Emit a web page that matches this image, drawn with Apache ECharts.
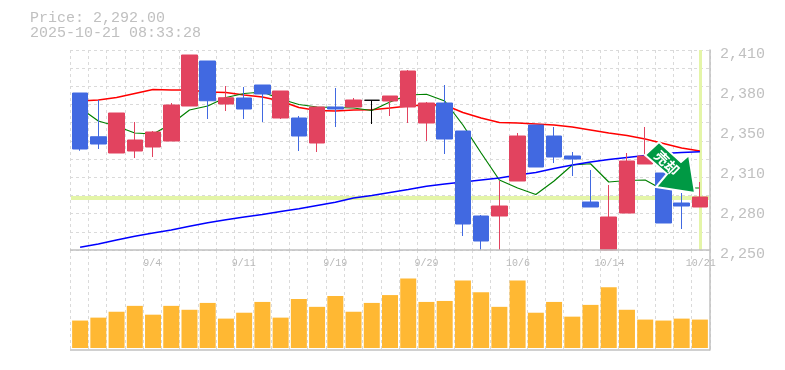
<!DOCTYPE html>
<html><head><meta charset="utf-8">
<style>html,body{margin:0;padding:0;background:#fff}#c{width:785px;height:370px}</style>
<script src="https://cdn.jsdelivr.net/npm/echarts@6/dist/echarts.min.js"></script>
</head><body><div id="c"></div>
<script>
const categories=['8/29','9/1','9/2','9/3','9/4','9/5','9/8','9/9','9/10','9/11','9/12','9/16','9/17','9/18','9/19','9/22','9/24','9/25','9/26','9/29','9/30','10/1','10/2','10/3','10/6','10/7','10/8','10/9','10/10','10/14','10/15','10/16','10/17','10/20','10/21'];
const dateTicks=['9/4','9/11','9/19','9/29','10/6','10/14','10/21'];
const priceTicks=['2,410','2,380','2,350','2,310','2,280','2,250'];
const opens =[2375.6,2340.6,2327.6,2329.2,2332.4,2337.2,2365.2,2401.2,2366.8,2371.6,2382,2355.6,2355.6,2335.6,2364.4,2364.4,2369.8,2369.2,2364.4,2351.6,2367.6,2345.2,2277.2,2277.2,2305.2,2350,2341.2,2325.2,2288.4,2250,2279.6,2318.8,2311.6,2287.6,2284.4];
const closes=[2330.8,2334.8,2359.6,2338,2344.4,2366,2406,2369.4,2371.8,2362.8,2374.8,2377.2,2341.2,2364.4,2362.8,2370,2369.8,2373.2,2393.2,2367.6,2338.8,2270.8,2257.2,2285.2,2341.2,2316.4,2324.4,2322.8,2284.4,2276.4,2321.2,2325.2,2271.6,2285.2,2292.4];
const lows  =[2329.4,2330.8,2327.6,2323.6,2324.4,2337.2,2365.2,2354.8,2361.2,2354.8,2352.4,2354.8,2329.2,2328.4,2348.4,2364.4,2350.8,2357.2,2351.6,2337.2,2326.8,2261.2,2250,2250,2305.2,2316.4,2319.6,2309.2,2284.4,2250,2279.6,2318.8,2271.6,2266.8,2284.4];
const highs =[2375.6,2370,2359.6,2352.4,2345.2,2367.6,2406,2401.2,2381.2,2380.4,2382,2377.2,2357.2,2364.4,2379.6,2371.6,2369.8,2373.2,2394,2368.4,2382,2345.2,2278,2305.2,2343.6,2350,2348.4,2328.4,2314,2302,2327.6,2348.4,2311.6,2295.6,2304.4];
const maRed  =[2369.2,2370.0,2372.0,2375.2,2378.4,2378.0,2378.0,2376.4,2376.0,2374.0,2372.4,2369.2,2364.0,2361.6,2361.2,2362.0,2362.2,2363.6,2365.2,2366.2,2366.0,2360.0,2355.6,2352.0,2351.6,2350.8,2350.0,2348.4,2346.0,2343.6,2341.6,2338.8,2335.2,2331.6,2329.2];
const maGreen=[2363.6,2353.2,2349.0,2343.6,2342.8,2350.8,2362.0,2365.2,2372.0,2375.2,2376.4,2370.8,2366.4,2364.4,2364.0,2363.6,2361.6,2368.4,2374.0,2374.6,2369.2,2350.0,2327.6,2306.0,2299.6,2294.4,2305.2,2318.0,2319.0,2304.4,2305.6,2306.0,2298.0,2299.6,2299.6];
const maBlue =[2252.2,2254.8,2258.0,2261.0,2263.6,2266.0,2269.0,2271.8,2274.2,2276.4,2278.4,2280.8,2283.0,2285.6,2288.2,2291.6,2293.6,2296.0,2298.4,2301.0,2302.8,2304.4,2306.0,2307.6,2310.0,2312.0,2315.2,2318.0,2320.4,2322.4,2324.0,2325.6,2327.2,2328.0,2328.6];
const volumes=[28,31,37,43,34,43,39,46,30,36,47,31,50,42,53,37,46,54,71,47,48,69,57,42,69,36,47,32,44,62,39,29,28,30,29];
const lastPrice=2292;
const titleLines=['Price: 2,292.00','2025-10-21 08:33:28'];
const arrowLabel='売却';

const FONT='"Liberation Mono",monospace', GREY='#c0c0c0', GRID='#dadada', PALE='#e4f5a8';
const RED='#e2435f', BLUE='#4169e1';
const candleData=opens.map((o,i)=>{
  const flat=o===closes[i];
  return {value:[o,closes[i],lows[i],highs[i]],
    itemStyle:flat?{color:'#000',color0:'#000',borderColor:'#000',borderColor0:'#000'}:undefined};
});
const dashed={show:true,interval:0,lineStyle:{color:GRID,type:[3,3],width:1}};
const noAxis={show:false};
const lineSeries=(data,color,width)=>({type:'line',xAxisIndex:2,yAxisIndex:2,data,symbol:'none',silent:true,z:2,
  lineStyle:{color,width},itemStyle:{color}});
const option={
  animation:false,backgroundColor:'#fff',
  title:titleLines.map((t,i)=>({text:t,left:30,top:11+i*15,padding:0,
    textStyle:{fontFamily:FONT,fontSize:15,fontWeight:'normal',color:GREY}})),
  grid:[
    {left:70,width:640,top:50,height:200,show:false},
    {left:70,width:640,top:250,height:100,show:false},
    {left:71,width:638,top:50,height:200,show:false},
    {left:71,width:638,top:250,height:98,show:false},
    {left:70,width:640,top:54,height:200,show:false}
  ],
  xAxis:[
    {gridIndex:0,type:'category',data:categories,axisLine:noAxis,axisTick:noAxis,axisLabel:noAxis,splitLine:dashed},
    {gridIndex:1,type:'category',data:categories,position:'top',axisLine:noAxis,axisTick:noAxis,splitLine:dashed,
      axisLabel:{inside:true,margin:8,color:'#b8b8b8',fontFamily:FONT,fontSize:10,
        interval:(i,v)=>dateTicks.includes(v)}},
    {gridIndex:2,type:'category',data:categories,axisLine:noAxis,axisTick:noAxis,axisLabel:noAxis,splitLine:noAxis},
    {gridIndex:3,type:'category',data:categories,axisLine:noAxis,axisTick:noAxis,axisLabel:noAxis,splitLine:noAxis},
    {gridIndex:4,type:'category',data:categories,axisLine:noAxis,axisTick:noAxis,axisLabel:noAxis,splitLine:noAxis}
  ],
  yAxis:[
    {gridIndex:0,type:'value',min:2250,max:2410,interval:160/11,position:'right',splitLine:{show:true,lineStyle:{color:GRID,type:[3,3],width:1}},
      axisLabel:noAxis,axisTick:noAxis,axisLine:{show:true,onZero:false,lineStyle:{color:GREY,width:1.5}}},
    {gridIndex:1,type:'value',min:0,max:100,position:'right',splitLine:noAxis,axisLabel:noAxis,axisTick:noAxis,
      axisLine:{show:true,onZero:false,lineStyle:{color:GREY,width:1.5}}},
    {gridIndex:2,type:'value',min:2250,max:2410,splitLine:noAxis,axisLabel:noAxis,axisTick:noAxis,axisLine:noAxis},
    {gridIndex:3,type:'value',min:0,max:100,splitLine:noAxis,axisLabel:noAxis,axisTick:noAxis,axisLine:noAxis},
    {gridIndex:4,type:'category',data:priceTicks.slice().reverse(),boundaryGap:false,position:'right',axisLine:noAxis,axisTick:noAxis,splitLine:noAxis,
      axisLabel:{show:true,interval:0,margin:10,color:GREY,fontFamily:FONT,fontSize:15}}
  ],
  series:[
    {type:'line',xAxisIndex:0,yAxisIndex:0,data:[],z:1},
    {type:'line',xAxisIndex:1,yAxisIndex:1,data:[],z:1},
    {type:'line',xAxisIndex:4,yAxisIndex:4,data:[],z:1},
    {type:'line',xAxisIndex:2,yAxisIndex:2,data:[],symbol:'none',z:1,silent:true,
      markLine:{silent:true,symbol:'none',z:1,label:{show:false},animation:false,
        data:[
          {yAxis:lastPrice,lineStyle:{color:PALE,width:4,type:'solid'}},
          {xAxis:categories[categories.length-1],lineStyle:{color:PALE,width:3,type:'solid'}}
        ]}},
    lineSeries(maRed,'#ff0000',1.6),
    lineSeries(maGreen,'#008000',1.2),
    lineSeries(maBlue,'#0000ff',1.6),
    {type:'candlestick',xAxisIndex:2,yAxisIndex:2,data:candleData,barWidth:16,z:3,silent:true,
      itemStyle:{color:RED,color0:BLUE,borderColor:RED,borderColor0:BLUE,borderWidth:1}},
    {type:'bar',xAxisIndex:3,yAxisIndex:3,data:volumes,barWidth:16,silent:true,z:3,itemStyle:{color:'#ffb833'}}
  ],
  graphic:[
    {type:'line',z:5,shape:{x1:70,y1:250,x2:710,y2:250},style:{stroke:GREY,lineWidth:1.5},silent:true},
    {type:'line',z:5,shape:{x1:70,y1:350,x2:710,y2:350},style:{stroke:GREY,lineWidth:1.5},silent:true},
    {type:'polygon',z:10,silent:true,
      shape:{points:[[659,142],[645,155],[667,174],[656,187],[695,193],[689,155],[681,162]]},
      style:{fill:'#009944',stroke:'#fff',lineWidth:2}},
    {type:'text',z:11,silent:true,x:667,y:163,rotation:-Math.PI/4,
      style:{text:arrowLabel,fill:'#fff',font:'bold 14px "Noto Sans CJK JP"',align:'center',verticalAlign:'middle'}}
  ]
};
echarts.init(document.getElementById('c'),null,{renderer:'canvas'}).setOption(option);
</script></body></html>
